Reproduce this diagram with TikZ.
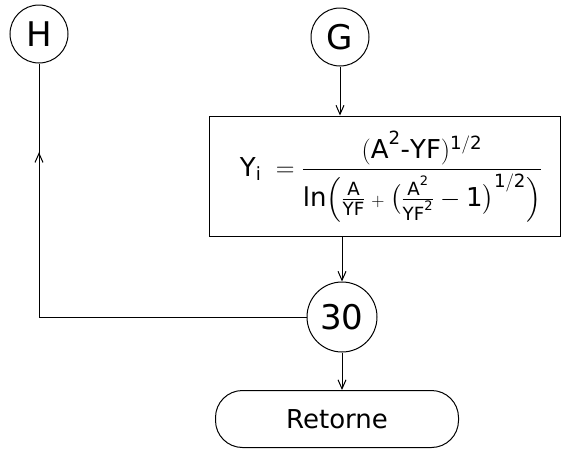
\documentclass[tikz,border=0pt]{standalone}
\usepackage{fix-cm}
\usepackage{amsmath}
\usepackage{fontspec}
\setsansfont{DejaVu Sans}
\usepackage{tikz}
\usetikzlibrary{positioning,arrows.meta,decorations.markings}

\begin{document}
\begin{tikzpicture}[
  x=1pt, y=-1pt,
  font=\sffamily,
  line width=1pt,
  circ/.style={draw, circle, minimum size=58pt, inner sep=0pt, font=\sffamily\fontsize{34}{34}\selectfont},
  procbox/.style={draw, minimum width=351pt, minimum height=120pt, inner sep=0pt},
  termbox/.style={draw, rounded corners=27pt, minimum width=243pt, minimum height=57pt, font=\sffamily\fontsize{26}{26}\selectfont},
  arr/.style={-{Straight Barb[length=9pt,width=8pt]}},
  midup/.style={postaction={decorate}, decoration={markings, mark=at position 0.65 with {\arrow{Straight Barb[length=9pt,width=8pt]}}}}
]
\useasboundingbox (0,0) rectangle (563,450);
\node[circ] (H) at (39,34) {H};
\node[circ] (G) at (340,37) {G};
\node[procbox] (calc) at (384.5,176) {};
\node (formula) at (391,177) {\fontsize{26}{30}\selectfont
  $\mathsf{Y_i}\;=\dfrac{(\mathsf{A}^{\mathsf{2}}\text{-}\mathsf{YF})^{\mathsf{1/2}}}{\mathsf{ln}\Bigl(\frac{\mathsf{A}}{\mathsf{YF}}\mathbin{\scriptstyle +}\bigl(\frac{\mathsf{A}^{\mathsf{2}}}{\mathsf{YF}^{\mathsf{2}}}-\mathsf{1}\bigr)^{\mathsf{1/2}}\Bigr)}$};
\node[circ, minimum size=70pt, font=\sffamily\fontsize{34}{34}\selectfont] (c30) at (342,317) {30};
\node[termbox] (ret) at (337,419) {Retorne};
\coordinate (hc) at (H |- c30);

\draw[arr] (G) -- (G |- calc.north);
\draw[arr] (calc.south -| c30) -- (c30);
\draw[arr] (c30) -- (c30 |- ret.north);
\draw (c30.west) -- (hc);
\draw[midup] (hc) -- (H);
\end{tikzpicture}
\end{document}
